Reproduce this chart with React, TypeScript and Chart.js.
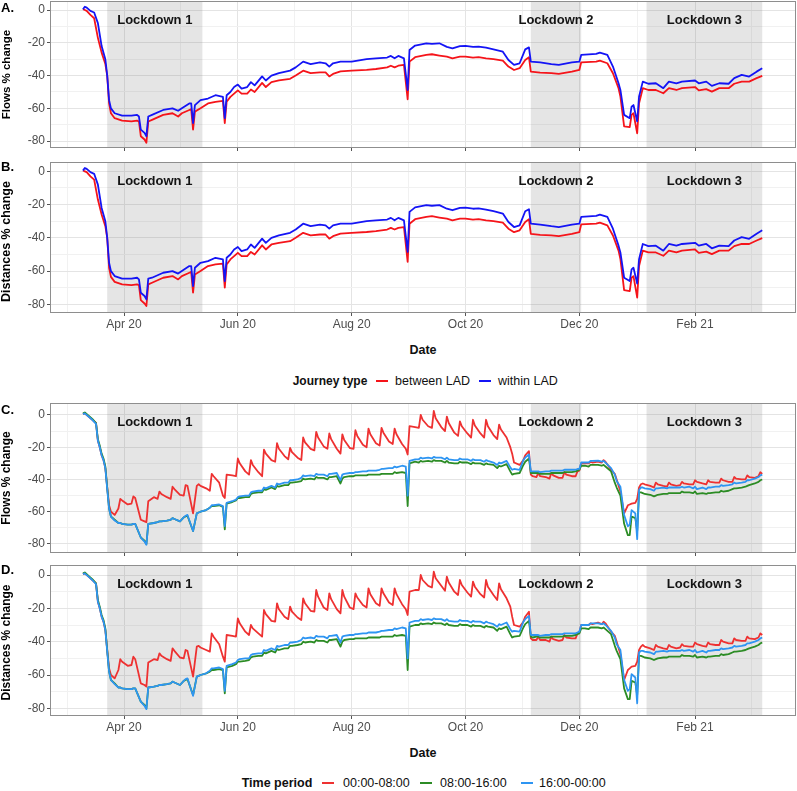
import React, { useEffect, useRef } from 'react';
import { Chart, registerables } from 'chart.js';
Chart.register(...registerables);

const FONT = '"Liberation Sans", Arial, Helvetica, sans-serif';

// x values are day numbers counted from 1 March 2020
const monthTickDays = [31, 92, 153, 214, 275, 337];
const monthTickLabels = ['Apr 20', 'Jun 20', 'Aug 20', 'Oct 20', 'Dec 20', 'Feb 21'];
const minorTickDays = [0.5, 61.5, 122.5, 183.5, 244.5, 306, 367.5];
const yMajorTicks = [-80, -60, -40, -20, 0];
const yMinorTicks = [-70, -50, -30, -10];

const lockdownNames = ['Lockdown 1', 'Lockdown 2', 'Lockdown 3'];
const lockdownStart = [22, 249, 311];
const lockdownEnd = [73, 276, 373];

const journeyTypes = ['between LAD', 'within LAD'];
const timePeriods = ['00:00-08:00', '08:00-16:00', '16:00-00:00'];

// ---------- Panels A & B (journey type) ----------
const abDays = [
  9, 10, 11, 13, 15, 17, 19, 21, 22, 23,
  24, 26, 30, 35, 38, 39, 40, 42, 43, 44,
  46, 52, 57, 60, 62, 66, 67, 68, 69, 72,
  76, 80, 84, 85, 86, 88, 90, 92, 94, 97,
  99, 101, 105, 107, 110, 114, 120, 123, 127, 131,
  136, 139, 141, 143, 147, 153, 161, 166, 172, 174,
  176, 178, 181, 183, 184, 187, 193, 196, 200, 204,
  207, 211, 214, 218, 221, 225, 229, 234, 237, 240,
  243, 246, 248, 249, 254, 260, 264, 271, 275, 276,
  284, 286, 290, 293, 296, 297, 299, 302, 303, 304,
  306, 307, 309, 312, 316, 320, 323, 327, 330, 337,
  339, 343, 346, 350, 355, 358, 362, 366, 370, 373,
];
const flowsWithin = [
  0.5, 2, 1.5, -0.5, -1.5, -8, -22, -30, -40, -55,
  -60, -63, -64.5, -64.5, -64, -65, -73, -75, -77, -65,
  -64, -61, -60, -61.5, -60, -57, -57, -69, -58, -55,
  -54, -52, -53, -66, -52, -50, -47, -45.5, -48, -47,
  -44, -46, -40.5, -43, -40, -38.5, -37, -35, -31.5, -33,
  -32, -32.5, -34.5, -32.5, -31.5, -31.5, -30, -29.5, -29, -28,
  -29.5, -28, -29.5, -48.8, -24.4, -21.7, -20.3, -20.7, -20.3, -22.5,
  -23.4, -22, -21.9, -22.5, -22.3, -23, -24, -25.4, -30.5, -33.5,
  -32.5, -24, -22.8, -31.5, -32, -33, -33.5, -32, -31.5, -27.4,
  -26.8, -26, -27.4, -34.5, -44.7, -48.8, -64, -66, -59, -58,
  -68, -52.8, -43.7, -45, -44.7, -47.7, -43.7, -44.7, -43.7, -43,
  -44.7, -43.7, -46.3, -44.7, -45, -41.6, -39.6, -40.6, -37.6, -35.5,
];
const flowsBetween = [
  0.5, 0, -0.5, -3, -5, -17, -26, -33, -40, -57,
  -63, -66, -67.5, -68, -67.5, -68, -77, -79, -81, -68,
  -67, -64, -63, -65, -63, -61, -60.5, -73, -62, -60,
  -57, -56, -55.5, -69, -56, -53, -51, -49, -51, -51,
  -48.5, -50, -44.5, -47, -44, -43, -42, -40, -37, -38.5,
  -38, -38, -40.5, -39, -37.5, -37, -36.5, -36, -35, -34,
  -35, -34, -33.5, -54.5, -31.5, -28.8, -27.4, -27, -27.8, -28.5,
  -29.5, -28.5, -28.4, -29, -28.8, -29.5, -30, -30.9, -34.5, -36.6,
  -35.5, -30.5, -28.8, -37.6, -38.2, -38.5, -39, -37.6, -36.6, -31.9,
  -31.5, -30.9, -32.5, -38.6, -47.7, -52.8, -71, -71.5, -64, -63,
  -75.2, -56.9, -47.7, -48.8, -48.8, -50.8, -47.7, -48.8, -47.7, -47,
  -49, -48.3, -49.8, -47.7, -47.7, -45, -43.7, -43.7, -41.6, -40.2,
];
const distWithin = [
  0.5, 2, 1.5, -0.5, -1.5, -8, -22, -30, -40, -55,
  -60, -63, -64.5, -64.5, -64, -65, -73, -75, -77, -64.5,
  -64, -61, -60, -61.5, -60, -57, -57, -69, -58, -55,
  -54, -52, -53, -66, -52, -50, -47, -45.5, -48, -47,
  -44, -46, -40.5, -43, -40, -38.5, -37, -35, -31.5, -33,
  -32, -32.5, -34.5, -32.5, -31.5, -31.5, -30, -29.5, -29, -28,
  -29.5, -28, -29.5, -48.5, -24.4, -21.7, -20.3, -20.7, -20.3, -22.5,
  -23.4, -22, -21.9, -22.5, -22.3, -23, -24, -25.4, -30.5, -33.5,
  -32.5, -24, -22.8, -31.5, -32, -33, -33.5, -32, -31.5, -27.4,
  -26.8, -26, -27.4, -34.5, -44.7, -48.8, -64, -66, -59, -58,
  -67.5, -52.8, -43.7, -45, -44.7, -47.7, -43.7, -44.7, -43.7, -43,
  -44.7, -43.7, -46.3, -44.7, -45, -41.6, -39.6, -40.6, -37.6, -35.5,
];
const distBetween = [
  0.5, 0, -0.5, -3, -5, -17, -26, -33, -40, -58,
  -63.5, -66.5, -68, -68.5, -68, -68.5, -77.5, -79.5, -81, -68,
  -67, -64, -63, -65, -63, -61, -60.5, -73, -62, -60,
  -57, -56, -55.5, -70, -56, -53, -51, -49, -51, -51,
  -48.5, -50, -44.5, -47, -44, -43, -42, -40, -37, -38.5,
  -38, -38, -40.5, -39, -37.5, -37, -36.5, -36, -35, -34,
  -35, -34, -33.5, -54.5, -31.5, -28.8, -27.4, -27, -27.8, -28.5,
  -29.5, -28.5, -28.4, -29, -28.8, -29.5, -30, -30.9, -34.5, -36.6,
  -35.5, -30.5, -28.8, -37.6, -38.2, -38.5, -39, -37.6, -36.6, -31.9,
  -31.5, -30.9, -32.5, -38.6, -47.7, -52.8, -71.5, -72, -64, -63,
  -76, -56.9, -47.7, -48.8, -48.8, -50.8, -47.7, -48.8, -47.7, -47,
  -49, -48.3, -49.8, -47.7, -47.7, -45, -43.7, -43.7, -41.6, -40.2,
];

// ---------- Panels C & D (time period) ----------
const cdDays = [
  9, 10, 12, 14, 16, 17, 18, 19, 20, 21, 22, 23, 24, 26,
  28, 29, 30, 33,
  35, 36, 37, 40,
  42, 43, 44, 47,
  49, 50, 51, 54,
  56, 57, 58, 61,
  63, 64, 65, 68,
  70, 71, 72, 75,
  77, 78, 79, 82,
  84, 85, 86, 89,
  91, 92, 93, 96,
  98, 99, 100, 103,
  105, 106, 107, 110,
  112, 113, 114, 117,
  119, 120, 121, 124,
  126, 127, 128, 131,
  133, 134, 135, 138,
  140, 141, 142, 145,
  147, 148, 149, 152,
  154, 155, 156, 159,
  161, 162, 163, 166,
  168, 169, 170, 173,
  175, 176, 177, 180,
  182, 183, 184, 187,
  189, 190, 191, 194,
  196, 197, 198, 201,
  203, 204, 205, 208,
  210, 211, 212, 215,
  217, 218, 219, 222,
  224, 225, 226, 229,
  231, 232, 233, 236,
  238, 239, 240, 243,
  245, 246, 248, 249, 250,
  252, 253, 254, 257,
  259, 260, 261, 264,
  266, 267, 268, 271,
  273, 274, 275, 276, 278,
  280, 281, 282, 285,
  287, 288, 289, 292,
  294, 295, 297, 299,
  301, 302, 303, 305, 306, 307,
  308, 309, 310, 313,
  315, 316, 317, 320,
  322, 323, 324, 327,
  329, 330, 331, 334,
  336, 337, 338, 341,
  343, 344, 345, 348,
  350, 351, 352, 355,
  357, 358, 359, 362,
  364, 365, 366, 369,
  371, 372, 373,
];
const flowsNight = [
  0.5, 1, -1, -3, -5, -16, -20, -25, -28, -33, -45, -56, -60, -62,
  -58, -52, -53, -55.5,
  -55, -50.5, -51.5, -65,
  -66, -66.5, -53.5, -51,
  -52, -47.5, -49, -51,
  -52, -44.5, -46, -49.5,
  -50, -43.5, -44, -61,
  -44, -43, -44, -45.5,
  -47, -36.5, -38, -42,
  -50, -51.5, -37, -37.5,
  -38, -27, -30, -35,
  -37, -28, -31, -35.5,
  -38, -21.5, -24, -28,
  -29, -17.5, -21, -25.5,
  -27.5, -20.5, -23, -26.5,
  -28, -14, -17, -21,
  -22, -10.5, -14, -19.5,
  -21, -11.5, -15, -21,
  -24, -12, -15.5, -20.5,
  -21, -9.5, -13, -18.5,
  -20, -8.5, -12, -17.5,
  -19, -8, -11, -16.5,
  -18, -8.5, -12, -18,
  -21, -24.5, -7, -7.5,
  -8, 0, -3, -7,
  -8, 2.5, -2, -7.5,
  -10, -1, -5, -11,
  -13, -4, -7, -11.5,
  -14, -3, -6.5, -11.5,
  -14, -3, -7, -12.5,
  -15, -6, -9, -14,
  -20, -24, -29.5, -31,
  -28, -25, -22.5, -37, -38,
  -38.5, -36, -38, -38.5,
  -39.5, -36, -37.5, -39,
  -39, -35.5, -37, -38,
  -38, -35, -34.5, -30, -30,
  -30, -29, -29.5, -29,
  -29.5, -28, -29, -34,
  -36.5, -40, -47.5, -61,
  -56, -55.5, -55, -54.5, -52, -45,
  -43, -42.5, -43, -44,
  -45, -42, -43, -44,
  -44.5, -42, -43, -44,
  -43.5, -41.5, -42.5, -43,
  -43, -40.5, -41.5, -42.5,
  -43, -40.5, -41.5, -42,
  -42, -39.5, -40.5, -41.5,
  -41.5, -38.5, -39.5, -40,
  -40, -37.5, -38.5, -39,
  -38, -35.5, -36.5,
];
const flowsDay = [
  1, 1.5, -0.5, -2.5, -5, -15, -19, -24, -27, -32, -45, -58, -63, -65,
  -67, -67, -67.5, -68,
  -68, -67.5, -67.5, -76,
  -78, -80, -67.5, -67,
  -66.5, -66, -66, -65.5,
  -65, -64, -64.5, -66,
  -63.5, -63, -62.5, -72,
  -61, -60.5, -60, -59,
  -57.5, -56.5, -56.5, -56,
  -57, -71, -55, -54,
  -53, -51.5, -51.5, -51,
  -51, -49, -48.5, -48,
  -48, -46, -46.5, -45,
  -46, -44, -44.5, -43.5,
  -43.5, -42, -42, -41.5,
  -41, -39.5, -40, -39.5,
  -40, -38.5, -39, -39,
  -40, -38.5, -38.5, -38,
  -42.5, -39.5, -38.5, -38,
  -38, -37.5, -37.5, -37.5,
  -37.5, -37, -37, -37,
  -37, -36.5, -36.5, -36.5,
  -36.5, -35.5, -36, -35.5,
  -36, -56.5, -30, -29,
  -29.5, -28.5, -29, -28.5,
  -29, -28, -28.5, -28.5,
  -29.5, -28.5, -29.5, -30,
  -30, -29, -29.5, -29.5,
  -30.5, -29.5, -30, -30,
  -31, -30, -30.5, -31,
  -33, -31.5, -32, -30.5,
  -35, -37, -36.5, -36,
  -31, -29, -27, -36, -36,
  -36, -36, -36.5, -36.5,
  -36.5, -36, -36, -36,
  -36, -35.5, -35.5, -35.5,
  -35, -34.5, -34, -31.5, -31.5,
  -32, -31, -31, -31,
  -31.5, -31, -32, -35,
  -42, -45, -50, -67.5,
  -74.5, -74.5, -63, -64, -72, -48,
  -48, -48.5, -49, -49.5,
  -50.5, -50, -49.5, -49,
  -49, -48.5, -48.5, -48.5,
  -48.5, -47.5, -48, -48,
  -48.5, -47.5, -49, -48.5,
  -49, -48.5, -48.5, -48,
  -48, -47, -47.5, -47,
  -46, -45.5, -45.5, -45,
  -44.5, -44, -43.5, -42.5,
  -41.5, -40.5, -40,
];
const flowsEvening = [
  0.5, 1, -1, -3, -5.5, -16, -20, -25, -28, -33, -46, -58, -63, -65.5,
  -67, -67, -67.5, -68,
  -68, -67.5, -67.5, -76,
  -78.5, -80.5, -67.5, -67,
  -66.5, -66, -66, -65.5,
  -65, -64, -64.5, -66,
  -63.5, -62.5, -62, -72,
  -61, -60.5, -60, -59,
  -57.5, -56, -56, -55.5,
  -56.5, -69, -54.5, -53.5,
  -52.5, -51, -50.5, -50,
  -50, -48, -47.5, -47,
  -47, -45, -45.5, -44,
  -45, -42.5, -43, -42,
  -42, -40.5, -40.5, -40,
  -39, -37.5, -38, -37.5,
  -38, -36.5, -37, -37,
  -38, -36.5, -36.5, -36,
  -40.5, -37, -36.5, -36,
  -36, -35.5, -35.5, -35,
  -35, -34.5, -34.5, -34.5,
  -34, -33.5, -33.5, -33,
  -33, -32, -32.5, -31.5,
  -32, -50, -28.5, -27.5,
  -27.5, -26.5, -27, -26.5,
  -27, -26, -26.5, -26.5,
  -27.5, -26.5, -27.5, -28,
  -28, -27, -27.5, -27.5,
  -28.5, -27.5, -28, -28,
  -29, -28, -28.5, -29.5,
  -31, -29.5, -30, -28.5,
  -32.5, -34, -33.5, -34,
  -28, -26.5, -24.5, -35, -35,
  -35, -35, -35.5, -35,
  -35, -34.5, -34.5, -34.5,
  -34.5, -34, -34, -34,
  -34, -33.5, -33.5, -29.5, -29.5,
  -29.5, -28.5, -28.5, -28.3,
  -29, -28.5, -29.5, -33,
  -37, -41, -44.5, -62,
  -69, -68, -59, -61, -77, -46.5,
  -45, -45, -45.5, -46,
  -47, -45.5, -45.5, -45,
  -45.5, -45, -45, -45,
  -45, -44.5, -45, -44.5,
  -45.5, -44.5, -46, -45,
  -46, -45, -45, -44.5,
  -44.5, -43.5, -44, -43.5,
  -43, -42, -42.5, -42,
  -41.5, -40.5, -40.5, -39.5,
  -38.5, -37.5, -37,
];
const distNight = [
  0.5, 1, -1, -3, -5, -16, -20, -25, -28, -33, -45, -56, -60, -62,
  -57, -50.5, -52, -54.5,
  -54, -49, -50.5, -65,
  -66, -67, -52.5, -50.5,
  -51, -47, -48.5, -50.5,
  -51.5, -44, -45.5, -49.5,
  -50, -45, -45.5, -61,
  -43, -42.5, -43.5, -45,
  -46, -35, -37, -41.5,
  -49, -52, -36, -36.5,
  -37, -26, -29, -34,
  -36, -30, -32, -35,
  -37, -21, -23.5, -27.5,
  -28, -17, -20.5, -25,
  -26.5, -19, -22, -25.5,
  -27, -14, -17, -21.5,
  -22, -9, -13, -19.5,
  -21, -11, -14.5, -20.5,
  -23, -9, -13, -19.5,
  -20.5, -11, -13.5, -18,
  -19.5, -8, -11.5, -17,
  -18.5, -8, -11, -16.5,
  -18, -8, -11.5, -17.5,
  -20.5, -24, -10, -9,
  -9, 0, -3, -6.5,
  -7.5, 2, -2, -6.5,
  -9.5, -1, -4.5, -10,
  -12, -3, -6, -10.5,
  -13, -4, -7, -11.5,
  -13.5, -3, -7, -12,
  -15, -5, -8.5, -14,
  -19, -25, -30, -31,
  -28, -25, -22, -38, -39,
  -39, -37, -39, -39,
  -40, -37, -38.5, -39.5,
  -39, -36, -37.5, -38,
  -38, -35, -34.5, -30, -30,
  -30, -29, -29.5, -28.5,
  -29.5, -28, -29, -34,
  -36.5, -40, -47.5, -63,
  -57, -56, -55, -54.5, -52, -45,
  -43, -42, -43, -44,
  -45, -42, -43, -44,
  -44.5, -42, -43, -44,
  -43.5, -41.5, -42.5, -43,
  -43, -40.5, -41.5, -42.5,
  -43, -40.5, -41.5, -42,
  -42, -39, -40, -41,
  -41, -38, -39, -39.5,
  -39.5, -37, -38, -38.5,
  -37.5, -35, -36,
];
const distDay = [
  1, 1.5, -0.5, -2.5, -5, -15, -19, -24, -27, -32, -45, -58, -63, -65,
  -67.5, -67.5, -68, -68.5,
  -68.5, -68, -68, -76,
  -78, -80, -67.5, -67,
  -66.5, -66, -66, -65.5,
  -65, -64, -64.5, -66,
  -63.5, -63, -62.5, -72,
  -61, -60.5, -60, -59,
  -58, -57, -57, -56.5,
  -57, -71, -55.5, -54.5,
  -53.5, -52, -52, -51.5,
  -51, -49.5, -49, -48.5,
  -48.5, -46.5, -47, -45.5,
  -46.5, -44.5, -45, -44,
  -44, -42.5, -42.5, -42,
  -41.5, -40, -40.5, -40,
  -40.5, -39, -39.5, -39.5,
  -40.5, -39, -39, -38.5,
  -43, -40, -39, -38.5,
  -38.5, -38, -38, -38,
  -38, -37.5, -37.5, -37.5,
  -37.5, -37, -37, -37,
  -37, -36, -36.5, -36,
  -36.5, -57, -31, -30,
  -30, -29, -29.5, -29,
  -29.5, -28.5, -29, -29,
  -30, -29, -30, -30.5,
  -30.5, -29.5, -30, -30,
  -31, -30, -30.5, -30.5,
  -31.5, -30.5, -31, -31.5,
  -33.5, -32, -32.5, -31,
  -35.5, -37.5, -37, -36.5,
  -31.5, -29.5, -27.5, -37, -37.5,
  -37, -37, -37.5, -37.5,
  -37.5, -37, -37, -37,
  -37, -36.5, -36.5, -36.5,
  -36, -35.5, -35, -32, -32,
  -32.5, -31.5, -31.5, -31.5,
  -32, -31.5, -32.5, -35.5,
  -42.5, -45.5, -50.5, -68,
  -74.5, -74.5, -63.5, -64.5, -72, -48.5,
  -48.5, -49, -49.5, -50,
  -51, -50.5, -50, -49.5,
  -49.5, -49, -49, -49,
  -49, -48, -48.5, -48.5,
  -49, -48, -49.5, -49,
  -49.5, -49, -49, -48.5,
  -48.5, -47.5, -48, -47.5,
  -46.5, -46, -46, -45.5,
  -45, -44.5, -44, -43,
  -42, -41, -40.5,
];
const distEvening = [
  0.5, 1, -1, -3, -5.5, -16, -20, -25, -28, -33, -46, -58, -63, -65.5,
  -67.5, -67.5, -68, -68.5,
  -68.5, -68, -68, -76,
  -78.5, -80.5, -67.5, -67,
  -66.5, -66, -66, -65.5,
  -65, -64, -64.5, -66,
  -63.5, -62.5, -62, -72.5,
  -61, -60.5, -60, -59,
  -57.5, -56, -56, -55.5,
  -56.5, -69.5, -54.5, -53.5,
  -52.5, -51, -50.5, -50,
  -50, -48, -47.5, -47,
  -47, -45, -45.5, -44,
  -45, -42.5, -43, -42,
  -42, -40.5, -40.5, -40,
  -39, -37.5, -38, -37.5,
  -38, -36.5, -37, -37,
  -38, -36.5, -36.5, -36,
  -40.5, -37, -36.5, -36,
  -36, -35.5, -35.5, -35,
  -35, -34.5, -34.5, -34.5,
  -34, -33.5, -33.5, -33,
  -33, -32, -32.5, -31.5,
  -32, -50, -28.5, -27.5,
  -27.5, -26.5, -27, -26.5,
  -27, -26, -26.5, -26.5,
  -27.5, -26.5, -27.5, -28,
  -28, -27, -27.5, -27.5,
  -28.5, -27.5, -28, -28,
  -29, -28, -28.5, -29.5,
  -31, -29.5, -30, -28.5,
  -32.5, -34, -33.5, -34,
  -28, -26.5, -24.5, -36, -36,
  -36, -36, -36.5, -36,
  -36, -35.5, -35.5, -35.5,
  -35.5, -35, -35, -35,
  -35, -34.5, -34, -30, -30,
  -30, -29, -29, -29,
  -29.5, -29, -30, -33.5,
  -37.5, -41.5, -45, -63,
  -69.5, -68.5, -59.5, -61.5, -77, -46.5,
  -45.5, -45.5, -46, -46.5,
  -47.5, -46, -46, -45.5,
  -46, -45.5, -45.5, -45.5,
  -45.5, -45, -45.5, -45,
  -46, -45, -46.5, -45.5,
  -46.5, -45.5, -45.5, -45,
  -45, -44, -44.5, -44,
  -43.5, -42.5, -43, -42.5,
  -42, -41, -41, -40,
  -39, -38, -37.5,
];

const abColors = ['#F5141A', '#1414F5'];
const cdColors = ['#EE3131', '#2C8C25', '#2E95F2'];

function pts(days: number[], vals: number[]) {
  const n = Math.min(days.length, vals.length);
  const out: { x: number; y: number }[] = [];
  for (let i = 0; i < n; i++) out.push({ x: days[i], y: vals[i] });
  return out;
}

const decorPlugin = {
  id: 'decor',
  beforeDatasetsDraw(chart: any) {
    const { ctx, chartArea: a, scales } = chart;
    const x = scales.x;
    ctx.save();
    ctx.fillStyle = 'rgba(127,127,127,0.2)';
    for (let i = 0; i < lockdownStart.length; i++) {
      const x0 = x.getPixelForValue(lockdownStart[i]);
      const x1 = x.getPixelForValue(lockdownEnd[i]);
      ctx.fillRect(x0, a.top, x1 - x0, a.bottom - a.top);
    }
    ctx.restore();
  },
  afterDatasetsDraw(chart: any, _args: any, opts: any) {
    const { ctx, chartArea: a, scales } = chart;
    const x = scales.x;
    ctx.save();
    ctx.fillStyle = '#141414';
    ctx.font = `bold 13px ${FONT}`;
    ctx.textAlign = 'center';
    ctx.textBaseline = 'middle';
    for (let i = 0; i < lockdownNames.length; i++) {
      const cx = x.getPixelForValue((lockdownStart[i] + lockdownEnd[i]) / 2);
      ctx.fillText(lockdownNames[i], cx, a.top + 19);
    }
    ctx.strokeStyle = '#8e8e8e';
    ctx.lineWidth = 1;
    const l = Math.round(a.left), t = Math.round(a.top);
    const r = Math.round(a.right), b = Math.round(a.bottom);
    ctx.strokeRect(l + 0.5, t + 0.5, r - l - 1, b - t - 1);
    // panel letter
    ctx.textAlign = 'left';
    ctx.fillStyle = '#000';
    ctx.font = `bold 13px ${FONT}`;
    ctx.fillText(opts.letter, 1, a.top + opts.letterDy);
    // y title
    ctx.translate(7, (a.top + a.bottom) / 2 + opts.yTitleDy);
    ctx.rotate(-Math.PI / 2);
    ctx.textAlign = 'center';
    ctx.font = `bold ${opts.yTitleSize}px ${FONT}`;
    ctx.fillText(opts.yTitle, 0, 0);
    ctx.restore();
  },
};

type Series = { label: string; days: number[]; values: number[]; color: string };

function Panel(props: {
  top: number; height: number; padTop: number; xHeight: number; showX: boolean;
  yMin: number; yMax: number; series: Series[]; letter: string; letterDy: number;
  yTitle: string; yTitleSize: number; yTitleDy: number;
}) {
  const ref = useRef<HTMLCanvasElement>(null);
  useEffect(() => {
    const p = props;
    const isMajorX = (v: number) => monthTickDays.indexOf(v) >= 0;
    const isMajorY = (v: number) => yMajorTicks.indexOf(v) >= 0;
    const chart = new Chart(ref.current as HTMLCanvasElement, {
      type: 'line',
      data: {
        datasets: p.series.map((s) => ({
          label: s.label,
          data: pts(s.days, s.values),
          borderColor: s.color,
          backgroundColor: s.color,
          borderWidth: 1.8,
          pointRadius: 0,
          tension: 0,
          fill: false,
          borderJoinStyle: 'round' as const,
        })),
      },
      options: {
        responsive: false,
        animation: false,
        devicePixelRatio: 1,
        events: [],
        layout: { padding: { top: p.padTop, right: 1, left: 0, bottom: 0 } },
        plugins: {
          legend: { display: false },
          tooltip: { enabled: false },
          decor: { letter: p.letter, letterDy: p.letterDy, yTitle: p.yTitle, yTitleSize: p.yTitleSize, yTitleDy: p.yTitleDy },
        } as any,
        scales: {
          x: {
            type: 'linear',
            min: -8.66,
            max: 391.1,
            bounds: 'data',
            afterBuildTicks: (scale: any) => {
              scale.ticks = [...minorTickDays, ...monthTickDays].sort((a, b) => a - b).map((v) => ({ value: v }));
            },
            afterFit: (scale: any) => {
              scale.height = p.xHeight;
              scale.paddingLeft = 0;
              scale.paddingRight = 0;
            },
            ticks: {
              display: p.showX,
              autoSkip: false,
              maxRotation: 0,
              minRotation: 0,
              padding: 1,
              color: '#4D4D4D',
              font: { family: FONT, size: 12 },
              callback: (v: any) => {
                const i = monthTickDays.indexOf(Number(v));
                return i >= 0 ? monthTickLabels[i] : '';
              },
            },
            grid: {
              color: (c: any) => (isMajorX(c.tick?.value) ? '#E4E4E4' : '#F1F1F1'),
              lineWidth: 1,
              tickLength: 3,
              tickColor: (c: any) => (isMajorX(c.tick?.value) ? '#555555' : 'rgba(0,0,0,0)'),
            },
            border: { display: false },
          },
          y: {
            type: 'linear',
            min: p.yMin,
            max: p.yMax,
            bounds: 'data',
            afterBuildTicks: (scale: any) => {
              scale.ticks = [...yMajorTicks, ...yMinorTicks].sort((a, b) => a - b).map((v) => ({ value: v }));
            },
            afterFit: (scale: any) => {
              scale.width = 50;
              scale.paddingTop = 0;
              scale.paddingBottom = 0;
            },
            ticks: {
              padding: 2,
              color: '#4D4D4D',
              font: { family: FONT, size: 12 },
              callback: (v: any) => (isMajorY(Number(v)) ? String(v) : ''),
            },
            grid: {
              color: (c: any) => (isMajorY(c.tick?.value) ? '#E4E4E4' : '#F1F1F1'),
              lineWidth: 1,
              tickLength: 3,
              tickColor: (c: any) => (isMajorY(c.tick?.value) ? '#555555' : 'rgba(0,0,0,0)'),
            },
            border: { display: false },
          },
        },
      } as any,
      plugins: [decorPlugin as any],
    });
    return () => chart.destroy();
  }, []);
  return (
    <canvas
      ref={ref}
      width={797}
      height={props.height}
      style={{ position: 'absolute', left: 0, top: props.top, width: 797, height: props.height }}
    />
  );
}

function Txt(props: { x: number; y: number; text: string; bold?: boolean; size: number; center?: boolean }) {
  const w = 200;
  return (
    <div
      style={{
        position: 'absolute',
        left: props.center ? props.x - w / 2 : props.x,
        width: props.center ? w : undefined,
        textAlign: props.center ? 'center' : 'left',
        top: props.y - 8,
        height: 16,
        lineHeight: '16px',
        fontSize: props.size,
        fontWeight: props.bold ? 'bold' : 'normal',
        fontFamily: FONT,
        whiteSpace: 'nowrap',
        color: '#111',
      }}
    >
      {props.text}
    </div>
  );
}

function Seg(props: { x: number; y: number; w: number; color: string }) {
  return (
    <div style={{ position: 'absolute', left: props.x, top: props.y - 1, width: props.w, height: 2, background: props.color }} />
  );
}

export default function App() {
  // datasets listed top-drawn first (Chart.js draws index 0 last)
  const seriesA: Series[] = [
    { label: journeyTypes[1], days: abDays, values: flowsWithin, color: abColors[1] },
    { label: journeyTypes[0], days: abDays, values: flowsBetween, color: abColors[0] },
  ];
  const seriesB: Series[] = [
    { label: journeyTypes[1], days: abDays, values: distWithin, color: abColors[1] },
    { label: journeyTypes[0], days: abDays, values: distBetween, color: abColors[0] },
  ];
  const seriesC: Series[] = [
    { label: timePeriods[2], days: cdDays, values: flowsEvening, color: cdColors[2] },
    { label: timePeriods[1], days: cdDays, values: flowsDay, color: cdColors[1] },
    { label: timePeriods[0], days: cdDays, values: flowsNight, color: cdColors[0] },
  ];
  const seriesD: Series[] = [
    { label: timePeriods[2], days: cdDays, values: distEvening, color: cdColors[2] },
    { label: timePeriods[1], days: cdDays, values: distDay, color: cdColors[1] },
    { label: timePeriods[0], days: cdDays, values: distNight, color: cdColors[0] },
  ];
  return (
    <div style={{ position: 'absolute', left: 0, top: 0, width: 797, height: 791, background: '#fff', overflow: 'hidden' }}>
      <Panel top={0} height={160} padTop={1} xHeight={12} showX={false} yMin={-84.2} yMax={5.5}
        series={seriesA} letter="A." letterDy={7} yTitle="Flows % change" yTitleSize={11.5} yTitleDy={0} />
      <Panel top={160} height={173} padTop={2} xHeight={20} showX={true} yMin={-85.2} yMax={5.6}
        series={seriesB} letter="B." letterDy={5} yTitle="Distances % change" yTitleSize={12.5} yTitleDy={4} />
      <Txt x={423} y={350} text="Date" bold size={12.5} center />
      <Txt x={292.7} y={381} text="Journey type" bold size={12} />
      <Seg x={376} y={381} w={12} color={abColors[0]} />
      <Txt x={395} y={381} text={journeyTypes[0]} size={12.5} />
      <Seg x={479} y={381} w={12} color={abColors[1]} />
      <Txt x={498} y={381} text={journeyTypes[1]} size={12.5} />
      <Panel top={400} height={165} padTop={3} xHeight={12} showX={false} yMin={-85.6} yMax={7.4}
        series={seriesC} letter="C." letterDy={7} yTitle="Flows % change" yTitleSize={12} yTitleDy={0} />
      <Panel top={562} height={174} padTop={3} xHeight={20} showX={true} yMin={-84.6} yMax={6}
        series={seriesD} letter="D." letterDy={5} yTitle="Distances % change" yTitleSize={12} yTitleDy={2} />
      <Txt x={423} y={753} text="Date" bold size={12.5} center />
      <Txt x={241.7} y={783} text="Time period" bold size={12.5} />
      <Seg x={322} y={783} w={12} color={cdColors[0]} />
      <Txt x={343} y={783} text={timePeriods[0]} size={12.5} />
      <Seg x={420} y={783} w={12} color={cdColors[1]} />
      <Txt x={440} y={783} text={timePeriods[1]} size={12.5} />
      <Seg x={521} y={783} w={12} color={cdColors[2]} />
      <Txt x={539} y={783} text={timePeriods[2]} size={12.5} />
    </div>
  );
}
